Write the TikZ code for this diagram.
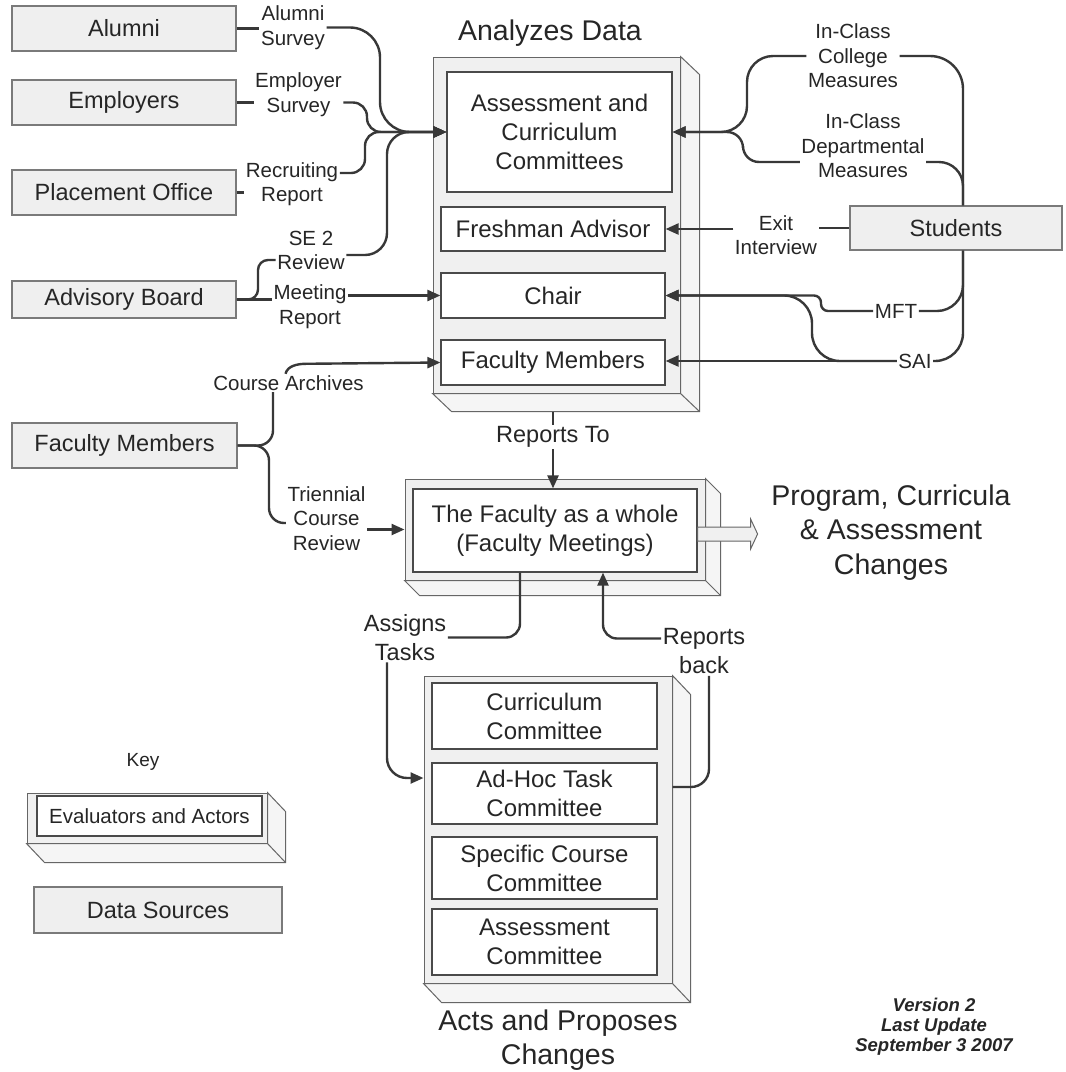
\documentclass[tikz,border=0pt]{standalone}
\usepackage{fontspec}
\setmainfont{Liberation Sans}
\usetikzlibrary{arrows.meta,calc}
\definecolor{ink}{HTML}{262626}
\definecolor{linec}{HTML}{383838}
\definecolor{srcfill}{HTML}{EFEFEF}
\definecolor{srcdraw}{HTML}{7A7A7A}
\definecolor{facefill}{HTML}{F0F0F0}
\definecolor{sidefill}{HTML}{F5F5F5}
\definecolor{edgec}{HTML}{666666}
\definecolor{innerdraw}{HTML}{4A4A4A}
\newcommand\cubeside[3]{%
  \filldraw[fill=sidefill,draw=edgec,line width=1pt] (#1.north east) -- ++(#2,#3) -- ($(#1.south east)+(#2,#3)$) -- ($(#1.south west)+(#2,#3)$) -- (#1.south west) -- (#1.south east) -- cycle;
  \draw[edgec,line width=1pt] (#1.south east) -- ++(#2,#3);
}
\tikzset{
  sz/.style 2 args={minimum width=#1pt,minimum height=#2pt},
  srcbox/.style={draw=srcdraw,fill=srcfill,line width=1.1pt,font=\fontsize{23.5}{28}\selectfont,text=ink,inner sep=0pt},
  cubeface/.style={draw=edgec,fill=facefill,line width=1pt,inner sep=0pt},
  inbox/.style={draw=innerdraw,fill=white,line width=1.2pt,font=\fontsize{24}{29}\selectfont,text=ink,align=center,inner sep=0pt},
  lbltxt/.style={font=\fontsize{20.5}{24.5}\selectfont,text=ink,align=center,inner sep=1.5pt},
  midtxt/.style={font=\fontsize{23.5}{29}\selectfont,text=ink,align=center,inner sep=1.5pt},
  bigtxt/.style={font=\fontsize{28.5}{34.5}\selectfont,text=ink,align=center,inner sep=0pt},
  conn/.style={draw=linec,line width=2.4pt,rounded corners=#1},
  conn/.default=14pt,
  endarrow/.style={-{Triangle[length=13pt,width=11pt]}},
}
\begin{document}
\begin{tikzpicture}[x=1pt,y=-1pt]
\useasboundingbox (0,0) rectangle (1066,1072);
\fill[white] (0,0) rectangle (1066,1072);

% ---------- data sources ----------
\node[srcbox,sz={224}{45}] (alumni) at (124,28.5) {Alumni};
\node[srcbox,sz={224}{45}] (employers) at (124,102.5) {Employers};
\node[srcbox,sz={224}{45}] (placement) at (124,192.5) {Placement Office};
\node[srcbox,sz={224}{37}] (advisory) at (124,299.5) {Advisory Board};
\node[srcbox,sz={225}{45}] (facsrc) at (124.5,445.5) {Faculty Members};
\node[srcbox,sz={212}{44}] (students) at (956,228) {Students};
\node[srcbox,sz={248}{46}] (datasrc) at (158,910) {Data Sources};

% ---------- Analyzes Data cube ----------
\node[cubeface,sz={247}{336}] (anF) at (556.5,225) {};
\cubeside{anF}{19}{18}
\node[inbox,sz={225}{120}] (acc) at (559.5,132) {Assessment and\\Curriculum\\Committees};
\node[inbox,sz={224}{44}] (fresh) at (553,229) {Freshman Advisor};
\node[inbox,sz={224}{45}] (chair) at (553,295.5) {Chair};
\node[inbox,sz={224}{45}] (facin) at (553,362.5) {Faculty Members};

% ---------- Faculty as a whole cube ----------
\node[cubeface,sz={300}{101}] (fwF) at (555,529.5) {};
\cubeside{fwF}{15}{15}
\node[inbox,sz={284}{83}] (fwi) at (555,530.5) {The Faculty as a whole\\(Faculty Meetings)};

% ---------- Acts cube ----------
\node[cubeface,sz={248}{307}] (actsF) at (548,829.5) {};
\cubeside{actsF}{18}{19}
\node[inbox,sz={225}{66}] (cur) at (544.5,716) {Curriculum\\Committee};
\node[inbox,sz={225}{61}] (adhoc) at (544.5,793.5) {Ad-Hoc Task\\Committee};
\node[inbox,sz={225}{62}] (spec) at (544.5,868) {Specific Course\\Committee};
\node[inbox,sz={225}{66}] (asmt) at (544.5,942) {Assessment\\Committee};

% ---------- Key cube ----------
\node[cubeface,sz={240}{50}] (keyF) at (147,818) {};
\cubeside{keyF}{18}{19}
\node[inbox,sz={225}{40},font=\fontsize{20.5}{24}\selectfont] (keyin) at (149.5,816) {Evaluators and Actors};

% ---------- titles ----------
\node[bigtxt] (tAnalyze) at (550,33) {Analyzes Data};
\node[midtxt] (reportsTo) at (553,437) {Reports To};
\node[bigtxt] (tProgram) at (891,532.5) {Program, Curricula\\\& Assessment\\Changes};
\node[bigtxt] (tActs) at (558,1040) {Acts and Proposes\\Changes};
\node[lbltxt,font=\fontsize{19}{22}\selectfont] (tKey) at (143,762) {Key};
\node[font=\fontsize{18.5}{20}\selectfont\bfseries\itshape,text=ink,align=center] (tVersion) at (934,1027) {Version 2\\Last Update\\September 3 2007};

% ---------- labels ----------
\node[lbltxt] (lAlumni) at (293,27.5) {Alumni\\Survey};
\node[lbltxt] (lEmployer) at (298.5,94.5) {Employer\\Survey};
\node[lbltxt] (lRecruit) at (292,184) {Recruiting\\Report};
\node[lbltxt] (lSE) at (311,250.5) {SE 2\\Review};
\node[lbltxt] (lMeeting) at (310,306.5) {Meeting\\Report};
\node[lbltxt] (lArchives) at (288.5,383) {Course Archives};
\node[lbltxt] (lTriennial) at (326.5,518.5) {Triennial\\Course\\Review};
\node[lbltxt] (lCollege) at (853,56) {In-Class\\College\\Measures};
\node[lbltxt] (lDept) at (863,146) {In-Class\\Departmental\\Measures};
\node[lbltxt] (lExit) at (776,235) {Exit\\Interview};
\node[lbltxt] (lMFT) at (896,311) {MFT};
\node[lbltxt] (lSAI) at (915,361) {SAI};
\node[midtxt] (lAssign) at (405,637.5) {Assigns\\Tasks};
\node[midtxt] (lBack) at (704,651.5) {Reports\\back};

% ---------- left connectors ----------
\draw[conn] (alumni.east) -- (alumni.east -| lAlumni.west);
\draw[conn=30pt,endarrow] (lAlumni.east) -- (380,27.5) -- (380,132) -- (acc.west);
\draw[conn] (employers.east) -- (employers.east -| lEmployer.west);
\draw[conn=14pt,endarrow] (employers.east -| lEmployer.east) -- (367,102.5) -- (367,132) -- (acc.west);
\draw[conn] (placement.east) -- (placement.east -| lRecruit.west);
\draw[conn=14pt,endarrow] ([yshift=11pt]lRecruit.east) -- (365,173) -- (365,132) -- (acc.west);
\draw[conn=10pt] (advisory.east) -- (258,299.5) -- (258,260) -- ([yshift=-9.5pt]lSE.west);
\draw[conn=22pt,endarrow] ([yshift=-4.5pt]lSE.east) -- (387,255) -- (387,132) -- (acc.west);
\draw[conn] (advisory.east) -- (advisory.east -| lMeeting.west);
\draw[conn,endarrow] (lMeeting.east |- chair.west) -- (chair.west);

\draw[conn=15pt] (facsrc.east) -| ([xshift=-15.5pt]lArchives.south);
\draw[conn=1pt,endarrow] ([xshift=-3pt]lArchives.north) .. controls ([xshift=-1pt,yshift=8pt]lArchives.north) and ([xshift=9pt,yshift=10pt]lArchives.north) .. ([xshift=19pt,yshift=10pt]lArchives.north) -- (facin.west);
\draw[conn=15pt] (facsrc.east) -- (269,445.5) -- (269,523) -- ([yshift=-4.5pt]lTriennial.west);
\draw[conn,endarrow] (lTriennial.east |- fwF.west) -- (fwF.west);

% ---------- reports to / hollow arrow ----------
\coordinate (anBot) at ($(anF.south)+(0,18)$);
\draw[conn] (reportsTo.north |- anBot) -- (reportsTo.north);
\draw[conn,endarrow] (reportsTo.south) -- (reportsTo.south |- fwi.north);
\filldraw[fill=facefill,draw=edgec,line width=1pt] ([yshift=3.5pt]fwi.east) -- ++(53,0) -- ++(0,-8) -- ++(7,15) -- ++(-7,15) -- ++(0,-8) -- ++(-53,0) -- cycle;

% ---------- assigns / reports back ----------
\draw[conn=14pt] ([xshift=-35pt]fwi.south) |- (lAssign.east);
\coordinate (adY) at ([yshift=15.5pt]adhoc.west);
\draw[conn=20pt,endarrow] ([xshift=-18pt]lAssign.south) |- (actsF.west |- adY);
\coordinate (rbY) at ([yshift=6.5pt]adhoc.east);
\draw[conn=18pt] (actsF.east |- rbY) -| ([xshift=5pt]lBack.south);
\draw[conn=14pt,endarrow] ([yshift=13pt]lBack.west) -| ([xshift=48pt]fwi.south);

% ---------- right connectors ----------
\draw[conn=26pt,endarrow] (lCollege.west) -- (747,56) -- (747,132) -- (acc.east);
\draw[conn=16pt,endarrow] ([yshift=-16pt]lDept.west) -- (743,162) -- (743,132) -- (acc.east);
\draw[conn=33pt] (lCollege.east) -| ([xshift=7pt]students.north);
\draw[conn=24pt] ([yshift=-16pt]lDept.east) -| ([xshift=7pt]students.north);
\draw[conn=26pt] ([xshift=7pt]students.south) |- (lMFT.east);
\draw[conn=28pt] ([xshift=7pt]students.south) |- (lSAI.east);
\draw[conn] (students.west) -- (students.west -| lExit.east);
\draw[conn,endarrow] (lExit.west |- fresh.east) -- (fresh.east);
\draw[conn=7pt,endarrow] (lMFT.west) -- (821,311) -- (821,295.5) -- (chair.east);
\draw[conn=28pt,endarrow] (lSAI.west) -- (812,361) -- (812,295.5) -- (chair.east);
\draw[conn,endarrow] (lSAI.west) -- (lSAI.west -| facin.east);
\end{tikzpicture}
\end{document}
